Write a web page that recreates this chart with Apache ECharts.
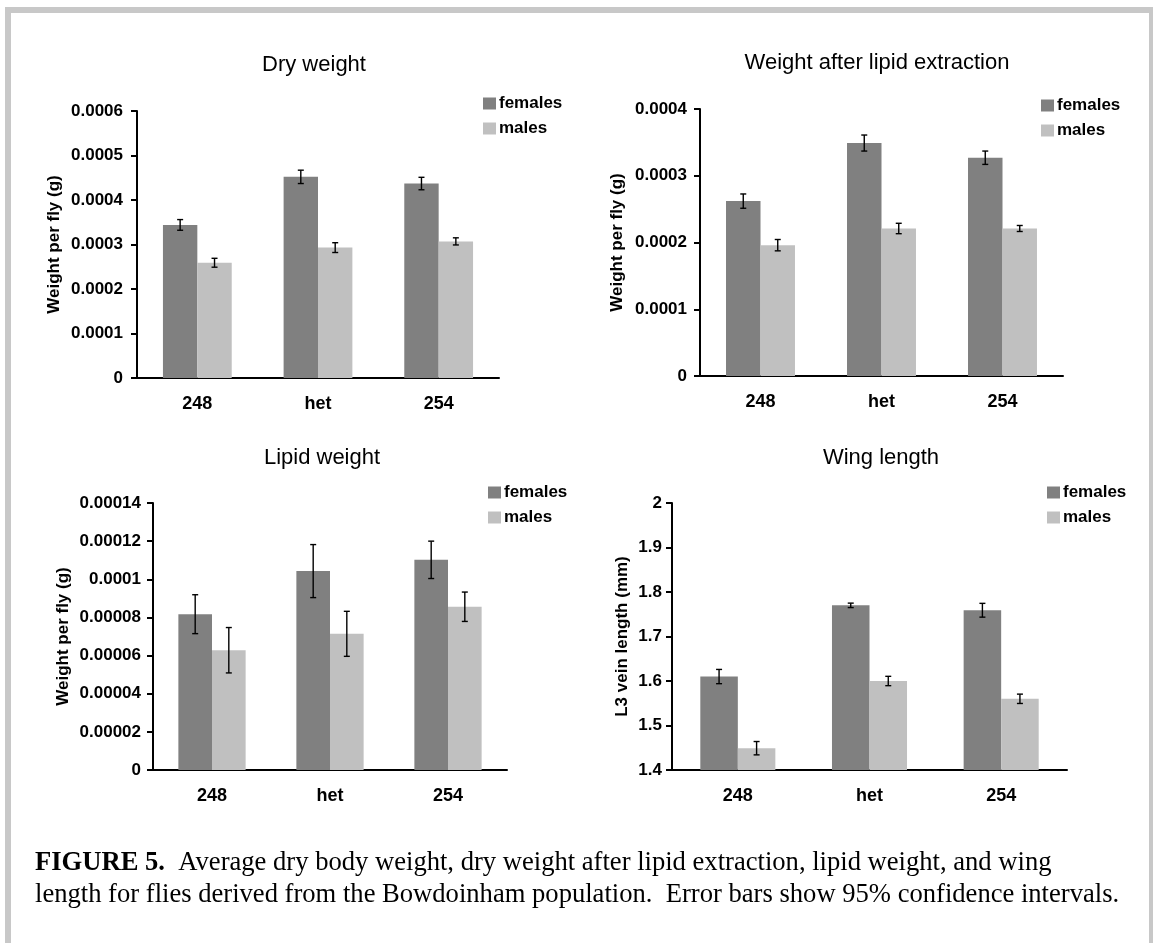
<!DOCTYPE html>
<html>
<head>
<meta charset="utf-8">
<style>
  html, body { margin:0; padding:0; background:#fff; }
  #chart { width:1153px; height:943px; }
</style>
<script src="https://cdn.jsdelivr.net/npm/echarts@6/dist/echarts.min.js"></script>
</head>
<body>
<div id="chart"></div>
<script>
// ---------- data ----------
const categories = ['248', 'het', '254'];
const seriesNames = ['females', 'males'];

const dryFemales    = [0.000344, 0.000452, 0.000437];
const dryFemalesErr = [0.000012, 0.000015, 0.000014];
const dryMales      = [0.000259, 0.000293, 0.000307];
const dryMalesErr   = [0.000010, 0.000011, 0.000008];

const extFemales    = [0.000262, 0.000349, 0.000327];
const extFemalesErr = [0.0000107, 0.000012, 0.000010];
const extMales      = [0.000196, 0.000221, 0.000221];
const extMalesErr   = [0.0000085, 0.0000078, 0.0000045];

const lipFemales    = [0.0000817, 0.0001043, 0.0001102];
const lipFemalesErr = [0.0000102, 0.0000139, 0.0000098];
const lipMales      = [0.0000628, 0.0000714, 0.0000856];
const lipMalesErr   = [0.0000119, 0.0000118, 0.0000077];

const wingFemales    = [1.610, 1.770, 1.759];
const wingFemalesErr = [0.016, 0.005, 0.0155];
const wingMales      = [1.449, 1.600, 1.560];
const wingMalesErr   = [0.015, 0.0105, 0.0105];

const panelTitles = ['Dry weight', 'Weight after lipid extraction', 'Lipid weight', 'Wing length'];
const axisNames = ['Weight per fly (g)', 'Weight per fly (g)', 'Weight per fly (g)', 'L3 vein length (mm)'];
const axisRanges = [
  {min: 0, max: 0.0006, interval: 0.0001},
  {min: 0, max: 0.0004, interval: 0.0001},
  {min: 0, max: 0.00014, interval: 0.00002},
  {min: 1.4, max: 2.0, interval: 0.1}
];
const caption1 = '{b|FIGURE 5.}  Average dry body weight, dry weight after lipid extraction, lipid weight, and wing';
const caption2 = 'length for flies derived from the Bowdoinham population.  Error bars show 95% confidence intervals.';

// ---------- layout ----------
const panels = [
  {grid: {left: 137, top: 111, width: 362, height: 267}, titleX: 314, titleY: 54, legend: {left: 483, top: 95}, nameGap: 74, labelMargin: 14,
   f: dryFemales, fe: dryFemalesErr, m: dryMales, me: dryMalesErr},
  {grid: {left: 700, top: 109, width: 363, height: 267}, titleX: 877, titleY: 52, legend: {left: 1041, top: 97}, nameGap: 74, labelMargin: 13,
   f: extFemales, fe: extFemalesErr, m: extMales, me: extMalesErr},
  {grid: {left: 153, top: 503, width: 354, height: 267}, titleX: 322, titleY: 447, legend: {left: 488, top: 484}, nameGap: 81, labelMargin: 12,
   f: lipFemales, fe: lipFemalesErr, m: lipMales, me: lipMalesErr},
  {grid: {left: 672, top: 503, width: 395, height: 267}, titleX: 881, titleY: 447, legend: {left: 1047, top: 484}, nameGap: 41, labelMargin: 10,
   f: wingFemales, fe: wingFemalesErr, m: wingMales, me: wingMalesErr}
];

const GAP = 0.43;
const FONT = '"Liberation Sans", Arial, sans-serif';
const SERIF = '"Liberation Serif", "Times New Roman", serif';
const colF = '#808080', colM = '#c0c0c0';

function fmt(v) {
  if (v === 0) return '0';
  return String(+v.toFixed(6));
}

function errRender(side) {
  return function (params, api) {
    const i = api.value(0), lo = api.value(1), hi = api.value(2);
    const band = api.size([1, 0])[0];
    const bw = band * (1 - GAP) / 2;
    const p1 = api.coord([i, lo]);
    const p2 = api.coord([i, hi]);
    const cx = p1[0] + side * bw / 2;
    const c = 3;
    const st = {stroke: '#000', lineWidth: 1.4};
    return {type: 'group', children: [
      {type: 'line', shape: {x1: cx, y1: p1[1], x2: cx, y2: p2[1]}, style: st},
      {type: 'line', shape: {x1: cx - c, y1: p2[1], x2: cx + c, y2: p2[1]}, style: st},
      {type: 'line', shape: {x1: cx - c, y1: p1[1], x2: cx + c, y2: p1[1]}, style: st}
    ]};
  };
}

const option = {
  animation: false,
  backgroundColor: '#fff',
  textStyle: {fontFamily: FONT},
  title: [], grid: [], xAxis: [], yAxis: [], legend: [], series: [],
  graphic: [
    {type: 'rect', silent: true, z: 100,
     shape: {x: 8, y: 10, width: 1144, height: 1000},
     style: {fill: 'none', stroke: '#c8c8c8', lineWidth: 6}},
    {type: 'text', silent: true, x: 35, y: 847,
     style: {text: caption1 + '\n' + caption2,
             fontFamily: SERIF, fontSize: 26.6, lineHeight: 32, fill: '#000',
             rich: {b: {fontFamily: SERIF, fontSize: 26.6, fontWeight: 'bold', lineHeight: 32, fill: '#000'}}}}
  ]
};

panels.forEach((p, k) => {
  option.title.push({
    text: panelTitles[k], left: p.titleX, top: p.titleY, textAlign: 'center', padding: 0,
    textStyle: {fontFamily: FONT, fontSize: 22, fontWeight: 'normal', color: '#000'}
  });
  option.grid.push(Object.assign({containLabel: false}, p.grid));
  option.xAxis.push({
    type: 'category', gridIndex: k, data: categories,
    axisLine: {lineStyle: {color: '#000', width: 2}},
    axisTick: {show: false},
    axisLabel: {color: '#000', fontFamily: FONT, fontSize: 18, fontWeight: 'bold', margin: 17}
  });
  const r = axisRanges[k];
  option.yAxis.push({
    type: 'value', gridIndex: k, min: r.min, max: r.max, interval: r.interval,
    name: axisNames[k], nameLocation: 'middle', nameRotate: 90, nameGap: p.nameGap,
    nameTextStyle: {color: '#000', fontFamily: FONT, fontSize: 17, fontWeight: 'bold'},
    axisLine: {show: true, lineStyle: {color: '#000', width: 2}},
    axisTick: {show: true, length: 6, lineStyle: {color: '#000', width: 2}},
    splitLine: {show: false},
    axisLabel: {color: '#000', fontFamily: FONT, fontSize: 17, fontWeight: 'bold', margin: p.labelMargin, formatter: fmt}
  });
  option.legend.push({
    orient: 'vertical', left: p.legend.left, top: p.legend.top, padding: 0,
    data: seriesNames, icon: 'rect', itemWidth: 13, itemHeight: 12, itemGap: 8,
    textStyle: {color: '#000', fontFamily: FONT, fontSize: 17, fontWeight: 'bold', lineHeight: 17, padding: [0, 0, 0, -2]},
    selectedMode: false
  });
  option.series.push({
    name: 'females', type: 'bar', xAxisIndex: k, yAxisIndex: k, data: p.f,
    barGap: '0%', barCategoryGap: (GAP * 100) + '%',
    itemStyle: {color: colF}, emphasis: {disabled: true}
  });
  option.series.push({
    name: 'males', type: 'bar', xAxisIndex: k, yAxisIndex: k, data: p.m,
    barGap: '0%', barCategoryGap: (GAP * 100) + '%',
    itemStyle: {color: colM}, emphasis: {disabled: true}
  });
  option.series.push({
    name: 'errF' + k, type: 'custom', xAxisIndex: k, yAxisIndex: k, z: 5,
    renderItem: errRender(-1), encode: {x: 0, y: [1, 2]},
    data: p.f.map((v, i) => [i, v - p.fe[i], v + p.fe[i]])
  });
  option.series.push({
    name: 'errM' + k, type: 'custom', xAxisIndex: k, yAxisIndex: k, z: 5,
    renderItem: errRender(1), encode: {x: 0, y: [1, 2]},
    data: p.m.map((v, i) => [i, v - p.me[i], v + p.me[i]])
  });
});

const chart = echarts.init(document.getElementById('chart'), null, {renderer: 'canvas'});
chart.setOption(option);
</script>
</body>
</html>
